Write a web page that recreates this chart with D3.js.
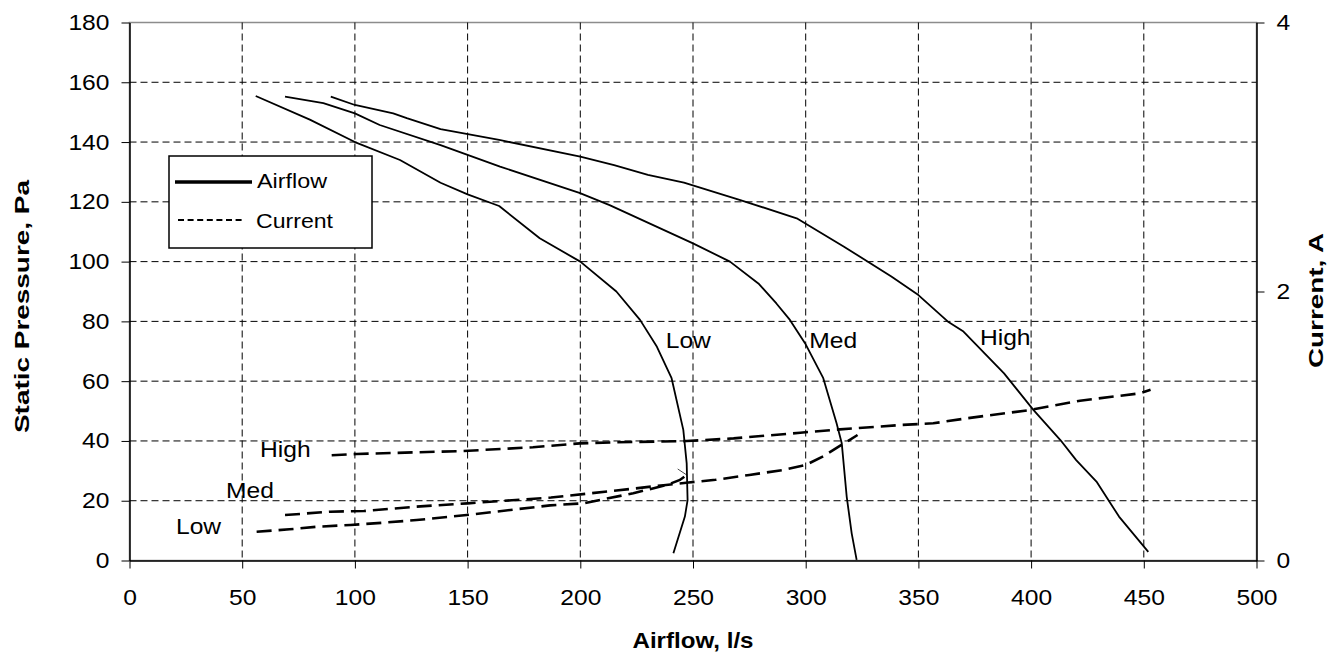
<!DOCTYPE html>
<html>
<head>
<meta charset="utf-8">
<script src="https://cdn.jsdelivr.net/npm/d3@7"></script>
<style>
  html, body { margin: 0; padding: 0; background: #fff; }
  svg { display: block; font-family: "Liberation Sans", Arial, sans-serif; }
  .stretch { transform-box: fill-box; transform: scaleX(1.12); }
  .axis-left text { transform-origin: 100% 50%; }
  .axis-right text { transform-origin: 0% 50%; }
  .axis-bottom text { transform-origin: 50% 50%; }
</style>
</head>
<body>
<svg id="chart" width="1332" height="654"></svg>
<script>
const xTicks = [0, 50, 100, 150, 200, 250, 300, 350, 400, 450, 500];
const pressureTicks = [0, 20, 40, 60, 80, 100, 120, 140, 160, 180];
const currentTicks = [0, 2, 4];

// airflow curves: [l/s, Pa]
const lowAirflow = [
  [56, 155.4], [80, 147.5], [100, 140], [120, 134], [138, 126.4], [150, 122.5],
  [164, 118.6], [182, 107.8], [200, 100], [216, 90], [226.5, 80.5], [234, 71.5],
  [240.5, 61], [245.7, 43.7], [247.2, 32.5], [247.6, 20.2], [246.4, 14.7], [241.3, 2.4],
];
const medAirflow = [
  [69, 155.2], [86, 153], [100, 149.6], [111, 145.7], [138, 139], [164.4, 131.8],
  [199.6, 123], [213, 118.9], [250, 106.1], [266.4, 100], [279, 92.7], [287, 86],
  [293, 80.5], [299.7, 72.7], [307.8, 61], [313.7, 45.9], [316, 39.2], [318.2, 21.3],
  [320.4, 9.1], [322.6, 0.2],
];
const highAirflow = [
  [89.3, 155.2], [100, 152.4], [117, 149.6], [123, 148], [138, 144.3], [164, 140.7],
  [200, 135.1], [215, 132.3], [230, 129], [246, 126.4], [271, 120.6], [296, 114.5],
  [317, 105], [338, 95], [350, 88.8], [363, 80], [370, 76.6], [388, 62.6], [401, 50.4],
  [413, 40.3], [420, 33.6], [429, 26.4], [439, 14.7], [452, 2.9],
];

// current curves: [l/s, A]
const lowCurrent = [
  [56.4, 0.214], [71, 0.232], [83, 0.251], [98, 0.264], [112.6, 0.281], [127.4, 0.301],
  [149.6, 0.338], [186.6, 0.41], [201.3, 0.425], [223.5, 0.5], [238.3, 0.561],
  [244.2, 0.599], [247.2, 0.636],
];
const medCurrent = [
  [69, 0.338], [89, 0.363], [104, 0.368], [127, 0.4], [150, 0.425], [187, 0.468],
  [216, 0.52], [237, 0.56], [248, 0.58], [260, 0.6], [275, 0.636], [290, 0.673],
  [300, 0.71], [308, 0.777], [317, 0.871], [323, 0.933],
];
const highCurrent = [
  [89.7, 0.782], [100.8, 0.792], [148, 0.814], [179, 0.842], [199.9, 0.871],
  [216, 0.879], [247.2, 0.888], [268, 0.908], [297.6, 0.95], [315.2, 0.975],
  [341.8, 1.007], [356.6, 1.02], [371.4, 1.057], [399.5, 1.119], [421.7, 1.188],
  [448.3, 1.243], [453, 1.27],
];

// curve labels: [text, l/s, Pa at baseline]
const curveLabels = [
  ["Low", 237.9, 71.2], ["Med", 301.6, 71.2], ["High", 377.3, 72.2],
  ["High", 57.9, 34.5], ["Med", 42.8, 20.8], ["Low", 20.6, 8.9],
];

const svg = d3.select("#chart");
const margin = { top: 22.5, right: 75.5, bottom: 93.5, left: 129.5 };
const width = +svg.attr("width");
const height = +svg.attr("height");
const innerW = width - margin.left - margin.right;
const innerH = height - margin.top - margin.bottom;

const x = d3.scaleLinear().domain([0, 500]).range([0, innerW]);
const y = d3.scaleLinear().domain([0, 180]).range([innerH, 0]);
const yc = d3.scaleLinear().domain([0, 4]).range([innerH, 0]);

const g = svg.append("g").attr("transform", `translate(${margin.left}, ${margin.top})`);

// plot area border
g.append("rect")
  .attr("width", innerW)
  .attr("height", innerH)
  .attr("fill", "none")
  .attr("stroke", "#8c8c8c")
  .attr("stroke-width", 1.5);

// grid
g.append("g")
  .selectAll("line")
  .data(pressureTicks.filter((d) => d > 0 && d < 180))
  .join("line")
  .attr("x1", 0)
  .attr("x2", innerW)
  .attr("y1", (d) => y(d))
  .attr("y2", (d) => y(d))
  .attr("stroke", "#000")
  .attr("stroke-width", 1)
  .attr("stroke-dasharray", "7,4");

g.append("g")
  .selectAll("line")
  .data(xTicks.filter((d) => d > 0 && d < 500))
  .join("line")
  .attr("x1", (d) => x(d))
  .attr("x2", (d) => x(d))
  .attr("y1", 0)
  .attr("y2", innerH)
  .attr("stroke", "#000")
  .attr("stroke-width", 1)
  .attr("stroke-dasharray", "7,4");

// axes
const styleAxis = (sel, cls) => {
  sel.attr("class", cls);
  sel.select(".domain").attr("stroke", "#000").attr("stroke-width", 1.5);
  sel.selectAll(".tick line").attr("stroke", "#000").attr("stroke-width", 1);
  sel.selectAll(".tick text")
    .attr("class", "stretch")
    .attr("fill", "#000")
    .style("font-size", "22px")
    .style("font-family", "'Liberation Sans', Arial, sans-serif");
};

g.append("g")
  .attr("transform", `translate(0, ${innerH})`)
  .call(d3.axisBottom(x).tickValues(xTicks).tickSize(8).tickSizeOuter(0).tickPadding(21))
  .call((s) => styleAxis(s, "axis-bottom"));

g.append("g")
  .call(d3.axisLeft(y).tickValues(pressureTicks).tickSize(8).tickSizeOuter(0).tickPadding(12))
  .call((s) => styleAxis(s, "axis-left"));

g.append("g")
  .attr("transform", `translate(${innerW}, 0)`)
  .call(d3.axisRight(yc).tickValues(currentTicks).tickFormat(d3.format("d"))
    .tickSize(8).tickSizeOuter(0).tickPadding(12))
  .call((s) => styleAxis(s, "axis-right"));

// series
const airLine = d3.line().x((d) => x(d[0])).y((d) => y(d[1]));
const curLine = d3.line().x((d) => x(d[0])).y((d) => yc(d[1]));

g.append("g")
  .selectAll("path")
  .data([lowAirflow, medAirflow, highAirflow])
  .join("path")
  .attr("d", airLine)
  .attr("fill", "none")
  .attr("stroke", "#000")
  .attr("stroke-width", 1.8)
  .attr("stroke-linejoin", "round");

g.append("g")
  .selectAll("path")
  .data([lowCurrent, medCurrent, highCurrent])
  .join("path")
  .attr("d", curLine)
  .attr("fill", "none")
  .attr("stroke", "#000")
  .attr("stroke-width", 2.6)
  .attr("stroke-dasharray", "15,7");

// small leader tick at end of low current
const lowEnd = lowCurrent[lowCurrent.length - 1];
g.append("line")
  .attr("x1", x(lowEnd[0]))
  .attr("y1", yc(lowEnd[1]))
  .attr("x2", x(lowEnd[0]) - 9)
  .attr("y2", yc(lowEnd[1]) - 6)
  .attr("stroke", "#000")
  .attr("stroke-width", 0.7);

// curve labels
g.append("g")
  .selectAll("text")
  .data(curveLabels)
  .join("text")
  .attr("class", "stretch")
  .style("transform-origin", "0% 50%")
  .attr("x", (d) => x(d[1]))
  .attr("y", (d) => y(d[2]))
  .attr("font-size", 22)
  .text((d) => d[0]);

// axis titles
svg.append("text")
  .attr("x", margin.left + innerW / 2)
  .attr("y", 648)
  .attr("text-anchor", "middle")
  .attr("font-size", 22)
  .attr("font-weight", "bold")
  .attr("textLength", 121)
  .attr("lengthAdjust", "spacingAndGlyphs")
  .text("Airflow, l/s");

svg.append("g")
  .attr("transform", "translate(29, 306.5) rotate(-90)")
  .append("text")
  .attr("text-anchor", "middle")
  .attr("font-size", 21)
  .attr("font-weight", "bold")
  .attr("textLength", 253)
  .attr("lengthAdjust", "spacingAndGlyphs")
  .text("Static Pressure, Pa");

svg.append("g")
  .attr("transform", "translate(1323, 300.5) rotate(-90)")
  .append("text")
  .attr("text-anchor", "middle")
  .attr("font-size", 21)
  .attr("font-weight", "bold")
  .attr("textLength", 135)
  .attr("lengthAdjust", "spacingAndGlyphs")
  .text("Current, A");

// legend
const legend = svg.append("g").attr("transform", "translate(169, 156)");
legend.append("rect")
  .attr("width", 203)
  .attr("height", 92)
  .attr("fill", "#fff")
  .attr("stroke", "#000")
  .attr("stroke-width", 1.5);

const legendItems = [
  { label: "Airflow", x1: 6, x2: 83, y: 26, width: 3.6, dash: null, tx: 88, ty: 32 },
  { label: "Current", x1: 9, x2: 76, y: 64, width: 2.2, dash: "6,3.6", tx: 87, ty: 72 },
];

legendItems.forEach((d) => {
  legend.append("line")
    .attr("x1", d.x1)
    .attr("x2", d.x2)
    .attr("y1", d.y)
    .attr("y2", d.y)
    .attr("stroke", "#000")
    .attr("stroke-width", d.width)
    .attr("stroke-dasharray", d.dash);
  legend.append("text")
    .attr("x", d.tx)
    .attr("y", d.ty)
    .attr("font-size", 21)
    .attr("textLength", d.label === "Airflow" ? 70 : 77)
    .attr("lengthAdjust", "spacingAndGlyphs")
    .text(d.label);
});
</script>
</body>
</html>
